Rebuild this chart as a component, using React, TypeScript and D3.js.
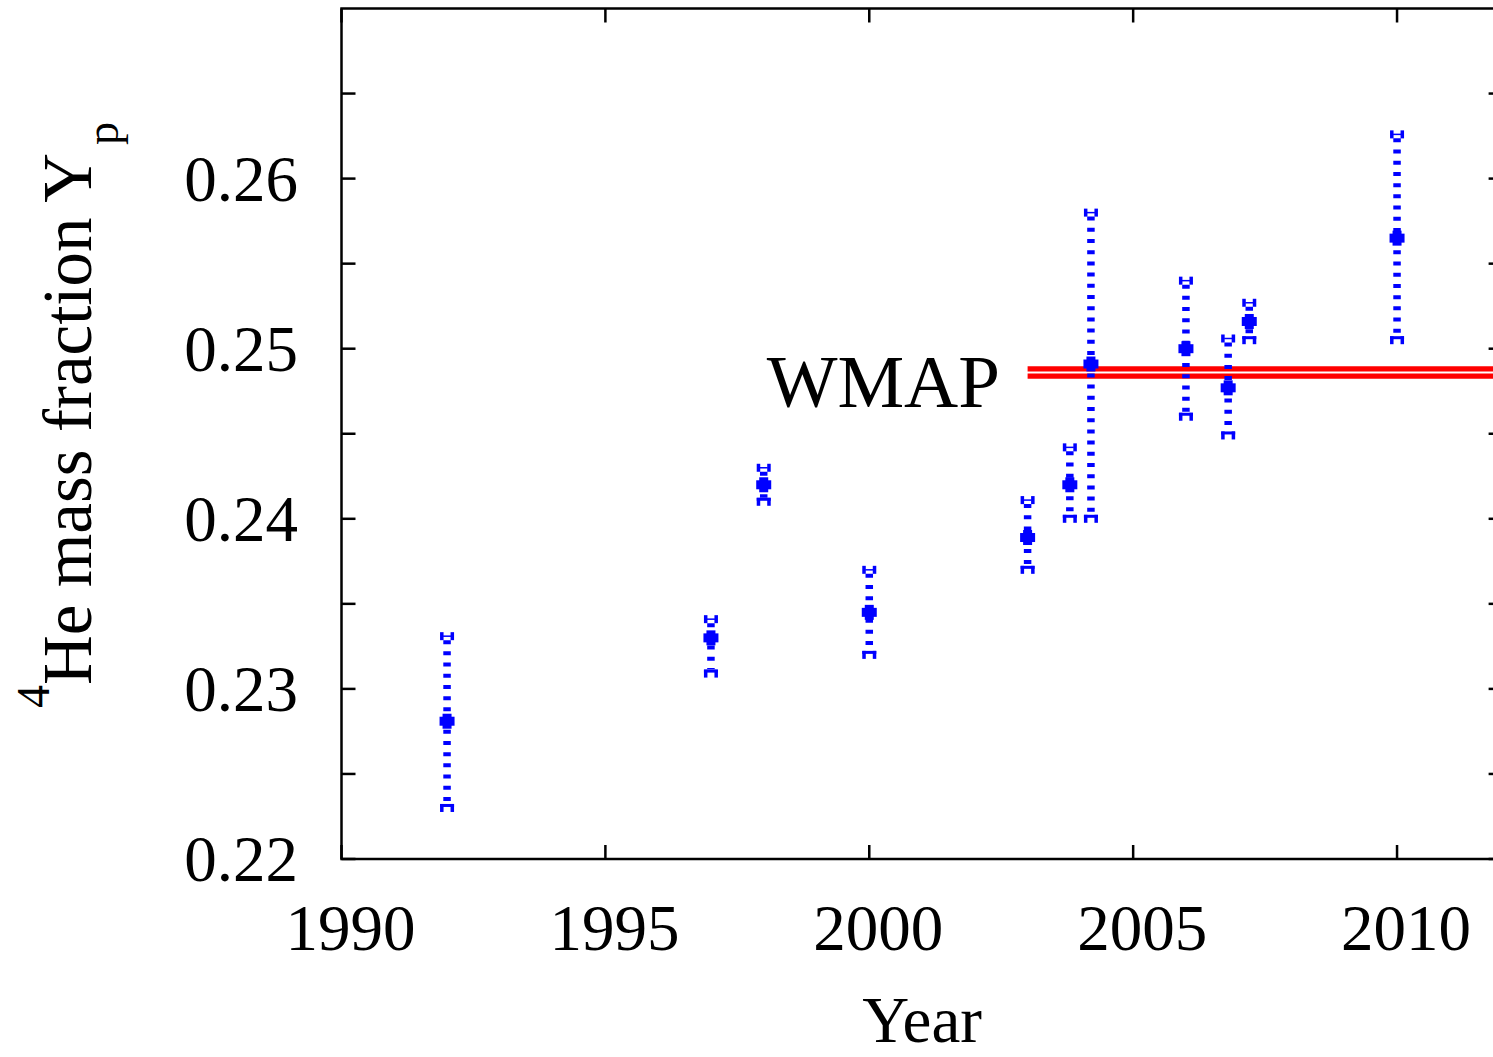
import React from "react";
import * as d3 from "d3";

const years = [1992, 1997, 1998, 2000, 2003, 2003.8, 2004.2, 2006, 2006.8, 2007.2, 2010];
const yp = [0.2281, 0.2330, 0.2420, 0.2345, 0.2389, 0.2420, 0.2491, 0.2500, 0.2477, 0.2516, 0.2565];
const lower = [0.2230, 0.2309, 0.2410, 0.2320, 0.2370, 0.2400, 0.2400, 0.2460, 0.2449, 0.2505, 0.2505];
const upper = [0.2331, 0.2341, 0.2430, 0.2370, 0.2411, 0.2442, 0.2580, 0.2540, 0.2506, 0.2527, 0.2626];

const wmapValue = 0.2486;
const wmapStart = 2003;
const wmapEnd = 2012;

const xTicks = [1990, 1995, 2000, 2005, 2010];
const yMajor = [0.22, 0.23, 0.24, 0.25, 0.26];
const yMinor = [0.225, 0.235, 0.245, 0.255, 0.265];

const W = 1493;
const H = 1057;
const FONT = "'Liberation Serif', 'Times New Roman', serif";

export default function App() {
  const x = d3.scaleLinear().domain([1990, 2012]).range([341.5, 1502.6]);
  const y = d3.scaleLinear().domain([0.22, 0.27]).range([859, 8.5]);
  const [x0, x1] = x.range();
  const [yb, yt] = y.range();
  const tickLen = 14;
  const blue = "#0000ff";
  const data = years.map((yr, i) => ({ yr, v: yp[i], lo: lower[i], hi: upper[i] }));

  return (
    <svg
      width={W}
      height={H}
      style={{ position: "absolute", left: 0, top: 0, background: "#fff" }}
      fontFamily={FONT}
    >
      <rect x={0} y={0} width={W} height={H} fill="#fff" />
      {/* frame */}
      <rect x={x0} y={yt} width={x1 - x0} height={yb - yt} fill="none" stroke="#000" strokeWidth={2.5} />
      {/* y ticks */}
      {[...yMajor, ...yMinor].map((t) => (
        <g key={"yt" + t}>
          <line x1={x0} x2={x0 + tickLen} y1={y(t)} y2={y(t)} stroke="#000" strokeWidth={2.5} />
          <line x1={x1} x2={x1 - tickLen} y1={y(t)} y2={y(t)} stroke="#000" strokeWidth={2.5} />
        </g>
      ))}
      {yMajor.map((t) => (
        <text key={"yl" + t} x={298} y={y(t) + 22} textAnchor="end" fontSize={65} fill="#000">
          {d3.format(".2f")(t)}
        </text>
      ))}
      {/* x ticks */}
      {xTicks.map((t) => (
        <g key={"xt" + t}>
          <line x1={x(t)} x2={x(t)} y1={yb} y2={yb - tickLen} stroke="#000" strokeWidth={2.5} />
          <line x1={x(t)} x2={x(t)} y1={yt} y2={yt + tickLen} stroke="#000" strokeWidth={2.5} />
          <text x={x(t) + 9} y={950} textAnchor="middle" fontSize={65} fill="#000">
            {t}
          </text>
        </g>
      ))}
      {/* axis titles */}
      <text x={(x0 + x1) / 2} y={1042} textAnchor="middle" fontSize={65} fill="#000">
        Year
      </text>
      <g transform={`translate(91, 415) rotate(-90)`}>
        <text textAnchor="middle" fontSize={69} fill="#000">
          <tspan fontSize={46} dy={-42}>4</tspan>
          <tspan dy={42}>He mass fraction Y</tspan>
          <tspan fontSize={46} dx={8} dy={27}>p</tspan>
        </text>
      </g>
      {/* WMAP */}
      <line x1={x(wmapStart)} x2={x(wmapEnd)} y1={y(wmapValue) - 3.7} y2={y(wmapValue) - 3.7} stroke="#ff0000" strokeWidth={5.3} />
      <line x1={x(wmapStart)} x2={x(wmapEnd)} y1={y(wmapValue) + 3.7} y2={y(wmapValue) + 3.7} stroke="#ff0000" strokeWidth={5.3} />
      <text x={1000} y={407} textAnchor="end" fontSize={75} fill="#000">
        WMAP
      </text>
      {/* error bars */}
      {data.map((d, i) => {
        const cx = x(d.yr);
        const yHi = y(d.hi);
        const yLo = y(d.lo);
        const yv = y(d.v);
        return (
          <g key={"p" + i} fill={blue}>
            <line x1={cx} x2={cx} y1={yHi + 4} y2={yLo - 4} stroke={blue} strokeWidth={7.5} strokeDasharray="4 7.2" />
            {/* upper cap: H */}
            <rect x={cx - 7} y={yHi - 4} width={3.5} height={8} />
            <rect x={cx + 3.5} y={yHi - 4} width={3.5} height={8} />
            <rect x={cx - 4} y={yHi - 0.75} width={8} height={1.5} />
            {/* lower cap */}
            <rect x={cx - 7} y={yLo - 4} width={14} height={3} />
            <rect x={cx - 7} y={yLo - 4} width={3.5} height={8} />
            <rect x={cx + 3.5} y={yLo - 4} width={3.5} height={8} />
            {/* marker */}
            <rect x={cx - 7.5} y={yv - 4.5} width={15} height={9} />
            <rect x={cx - 4.5} y={yv - 7.5} width={9} height={15} />
          </g>
        );
      })}
    </svg>
  );
}
